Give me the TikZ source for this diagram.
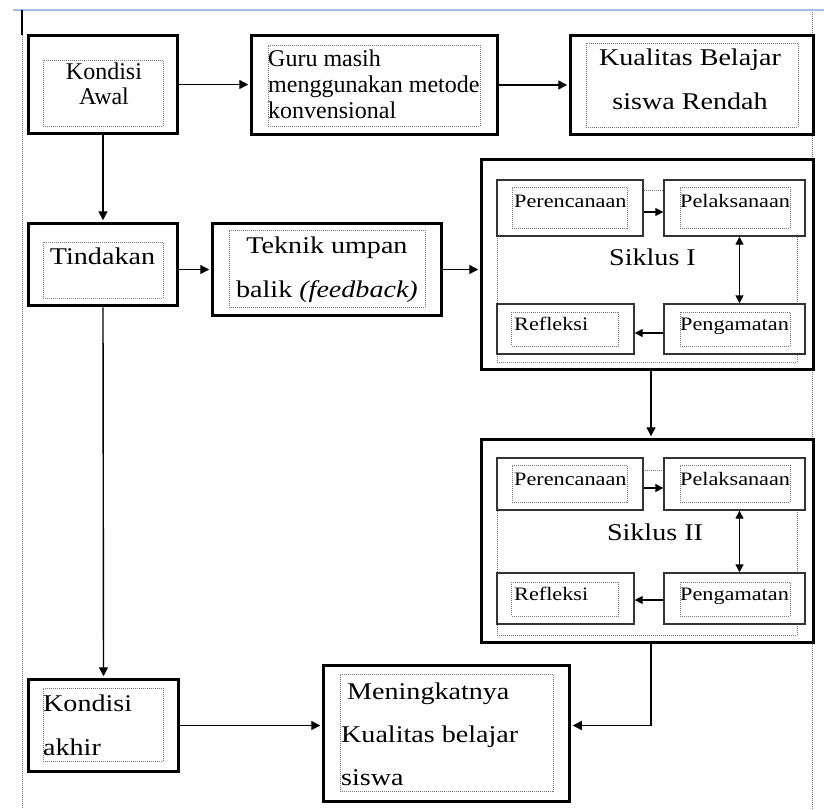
\documentclass[tikz,border=0pt]{standalone}
\usepackage{fontspec}
\setmainfont{Liberation Serif}
\newfontfamily\widefont[FakeStretch=1.17]{Liberation Serif}
\definecolor{pageblue}{RGB}{165,190,230}
\definecolor{dotgray}{RGB}{120,120,120}
\usetikzlibrary{arrows.meta}

\tikzset{
    mainbox/.style={rectangle, draw=black, line width=3.5pt, fill=white, inner sep=0pt},
    subbox/.style={rectangle, draw=black!80, line width=1.4pt, fill=white, inner sep=0pt},
    dotbox/.style={rectangle, draw=dotgray, line width=0.8pt, dash pattern=on 1pt off 1pt, inner sep=0pt},
    maintext/.style={inner sep=0pt, font=\widefont\fontsize{24pt}{44pt}\selectfont},
    subtext/.style={inner sep=0pt, anchor=north west, font=\widefont\fontsize{19pt}{22pt}\selectfont},
    flow/.style={-{Triangle[length=9pt,width=9pt]}, line width=1.4pt, shorten >=1.5pt},
    subflow/.style={-{Triangle[length=8pt,width=8pt]}, line width=1.4pt}
}

\begin{document}
\begin{tikzpicture}[x=1pt, y=-1pt]
    \fill[white] (0,0) rectangle (824,809);
    \useasboundingbox (0,0) rectangle (824,809);
    % page margins
    \draw[pageblue, line width=2pt] (13,10) -- (824,10);
    \draw[black, line width=1.5pt] (22,10) -- (22,35);
    \draw[dotgray, line width=0.8pt, dash pattern=on 1pt off 1pt] (22,35) -- (22,809);
    \draw[dotgray, line width=0.8pt, dash pattern=on 1pt off 1pt] (812,12) -- (812,809);

    % Top row
    \node[mainbox, minimum width=149pt, minimum height=98pt] (awal) at (103,84.5) {};
    \node[dotbox, minimum width=120pt, minimum height=66pt] (awal-in) at (103,93) {};
    \node[maintext, anchor=north, align=center, font=\fontsize{24pt}{25pt}\selectfont] (awal-txt) at (104,62.6) {Kondisi\\Awal};

    \node[mainbox, minimum width=246pt, minimum height=99pt] (guru) at (374.5,85) {};
    \node[dotbox, minimum width=212pt, minimum height=81pt] (guru-in) at (374,85.5) {};
    \node[maintext, anchor=north west, align=left, font=\fontsize{24pt}{26pt}\selectfont] (guru-txt) at (268,49.6) {Guru masih\\menggunakan metode\\konvensional};

    \node[mainbox, minimum width=243pt, minimum height=99pt] (rendah) at (692,85) {};
    \node[dotbox, minimum width=212pt, minimum height=84pt] (rendah-in) at (692,85) {};
    \node[maintext, anchor=north, align=center] (rendah-txt) at (690,48.6) {Kualitas Belajar\\siswa Rendah};

    % Second row
    \node[mainbox, minimum width=149pt, minimum height=82pt] (tindakan) at (103,264.5) {};
    \node[dotbox, minimum width=120pt, minimum height=56pt] (tindakan-in) at (103,270) {};
    \node[maintext, anchor=north] (tindakan-txt) at (102.5,247.6) {Tindakan};

    \node[mainbox, minimum width=229pt, minimum height=92pt] (teknik) at (327,269.5) {};
    \node[dotbox, minimum width=196pt, minimum height=77pt] (teknik-in) at (327,268.5) {};
    \node[maintext, anchor=north, align=center, font=\widefont\fontsize{24pt}{43.5pt}\selectfont] (teknik-txt) at (327,237) {Teknik umpan\\balik {\itshape (feedback)}};

    % Siklus I
    \node[mainbox, minimum width=332pt, minimum height=210pt] (siklus1) at (647.5,264.5) {};
    \node[dotbox, minimum width=300pt, minimum height=172pt] (lab1) at (647,276) {};
    \node[maintext, anchor=north] (lab1-txt) at (652.5,248.6) {Siklus I};
    \node[subbox, minimum width=146pt, minimum height=56pt] (ren1) at (570,208) {};
    \node[dotbox, minimum width=115pt, minimum height=41pt] (ren1-in) at (569.5,207.5) {};
    \node[subtext] (ren1-txt) at (514,194.4) {Perencanaan};
    \node[subbox, minimum width=141pt, minimum height=56pt] (pel1) at (734.5,208) {};
    \node[dotbox, minimum width=110pt, minimum height=41pt] (pel1-in) at (735,207.5) {};
    \node[subtext] (pel1-txt) at (680,194) {Pelaksanaan};
    \node[subbox, minimum width=137pt, minimum height=50pt] (ref1) at (565.5,329) {};
    \node[dotbox, minimum width=107pt, minimum height=34pt] (ref1-in) at (565,329) {};
    \node[subtext] (ref1-txt) at (514,317) {Refleksi};
    \node[subbox, minimum width=141pt, minimum height=50pt] (pen1) at (734.5,329) {};
    \node[dotbox, minimum width=110pt, minimum height=34pt] (pen1-in) at (735,329) {};
    \node[subtext] (pen1-txt) at (680,317.4) {Pengamatan};

    % Siklus II
    \node[mainbox, minimum width=332pt, minimum height=203pt] (siklus2) at (647.5,541) {};
    \node[dotbox, minimum width=300pt, minimum height=165pt] (lab2) at (647,552.5) {};
    \node[maintext, anchor=north] (lab2-txt) at (655,523.6) {Siklus II};
    \node[subbox, minimum width=146pt, minimum height=52pt] (ren2) at (570,484) {};
    \node[dotbox, minimum width=115pt, minimum height=37pt] (ren2-in) at (569.5,483.5) {};
    \node[subtext] (ren2-txt) at (514,472.4) {Perencanaan};
    \node[subbox, minimum width=141pt, minimum height=52pt] (pel2) at (734.5,484) {};
    \node[dotbox, minimum width=110pt, minimum height=37pt] (pel2-in) at (735,483.5) {};
    \node[subtext] (pel2-txt) at (680,472) {Pelaksanaan};
    \node[subbox, minimum width=137pt, minimum height=51pt] (ref2) at (565.5,598.5) {};
    \node[dotbox, minimum width=107pt, minimum height=34pt] (ref2-in) at (565,599) {};
    \node[subtext] (ref2-txt) at (514,587) {Refleksi};
    \node[subbox, minimum width=141pt, minimum height=51pt] (pen2) at (734.5,598.5) {};
    \node[dotbox, minimum width=110pt, minimum height=34pt] (pen2-in) at (735,599) {};
    \node[subtext] (pen2-txt) at (680,587.4) {Pengamatan};

    % Bottom row
    \node[mainbox, minimum width=150pt, minimum height=92pt] (akhir) at (103.5,725.5) {};
    \node[dotbox, minimum width=120pt, minimum height=73pt] (akhir-in) at (103,724.5) {};
    \node[maintext, anchor=north west, align=left] (akhir-txt) at (43,694.6) {Kondisi\\akhir};

    \node[mainbox, minimum width=246pt, minimum height=136pt] (naik) at (446.5,733.5) {};
    \node[dotbox, minimum width=213pt, minimum height=117pt] (naik-in) at (446.5,732.5) {};
    \node[maintext, anchor=north west, align=left, font=\widefont\fontsize{24pt}{43pt}\selectfont] (naik-txt) at (341,682.6) {\hspace*{6pt}Meningkatnya\\Kualitas belajar\\siswa};

    % Connectors
    \draw[flow] (awal.east) -- (awal.east -| guru.west);
    \draw[flow] (guru.east) -- (guru.east -| rendah.west);
    \draw[flow] (awal.south) -- (tindakan.north);
    \draw[flow] (tindakan.east |- teknik.west) -- (teknik.west);
    \draw[flow] (teknik.east) -- (teknik.east -| siklus1.west);
    \draw[flow] ([xshift=3.5pt]siklus1.south) -- ([xshift=3.5pt]siklus2.north);
    \draw[flow] (tindakan.south) -- (akhir.north);
    \draw[flow] (akhir.east) -- (akhir.east -| naik.west);
    \draw[flow] ([xshift=3.5pt]siklus2.south) |- (naik.east |- akhir.east);

    \draw[subflow] ([yshift=-4pt]ren1.east) -- ([yshift=-4pt]ren1.east -| pel1.west);
    \draw[subflow, {Triangle[length=8pt,width=8pt]}-{Triangle[length=8pt,width=8pt]}] ([xshift=5pt]pel1.south) -- ([xshift=5pt]pen1.north);
    \draw[subflow] ([yshift=-4pt]pen1.west) -- ([yshift=-4pt]pen1.west -| ref1.east);
    \draw[subflow] ([yshift=-4pt]ren2.east) -- ([yshift=-4pt]ren2.east -| pel2.west);
    \draw[subflow, {Triangle[length=8pt,width=8pt]}-{Triangle[length=8pt,width=8pt]}] ([xshift=5pt]pel2.south) -- ([xshift=5pt]pen2.north);
    \draw[subflow] ([yshift=-1.5pt]pen2.west) -- ([yshift=-1.5pt]pen2.west -| ref2.east);
\end{tikzpicture}
\end{document}
